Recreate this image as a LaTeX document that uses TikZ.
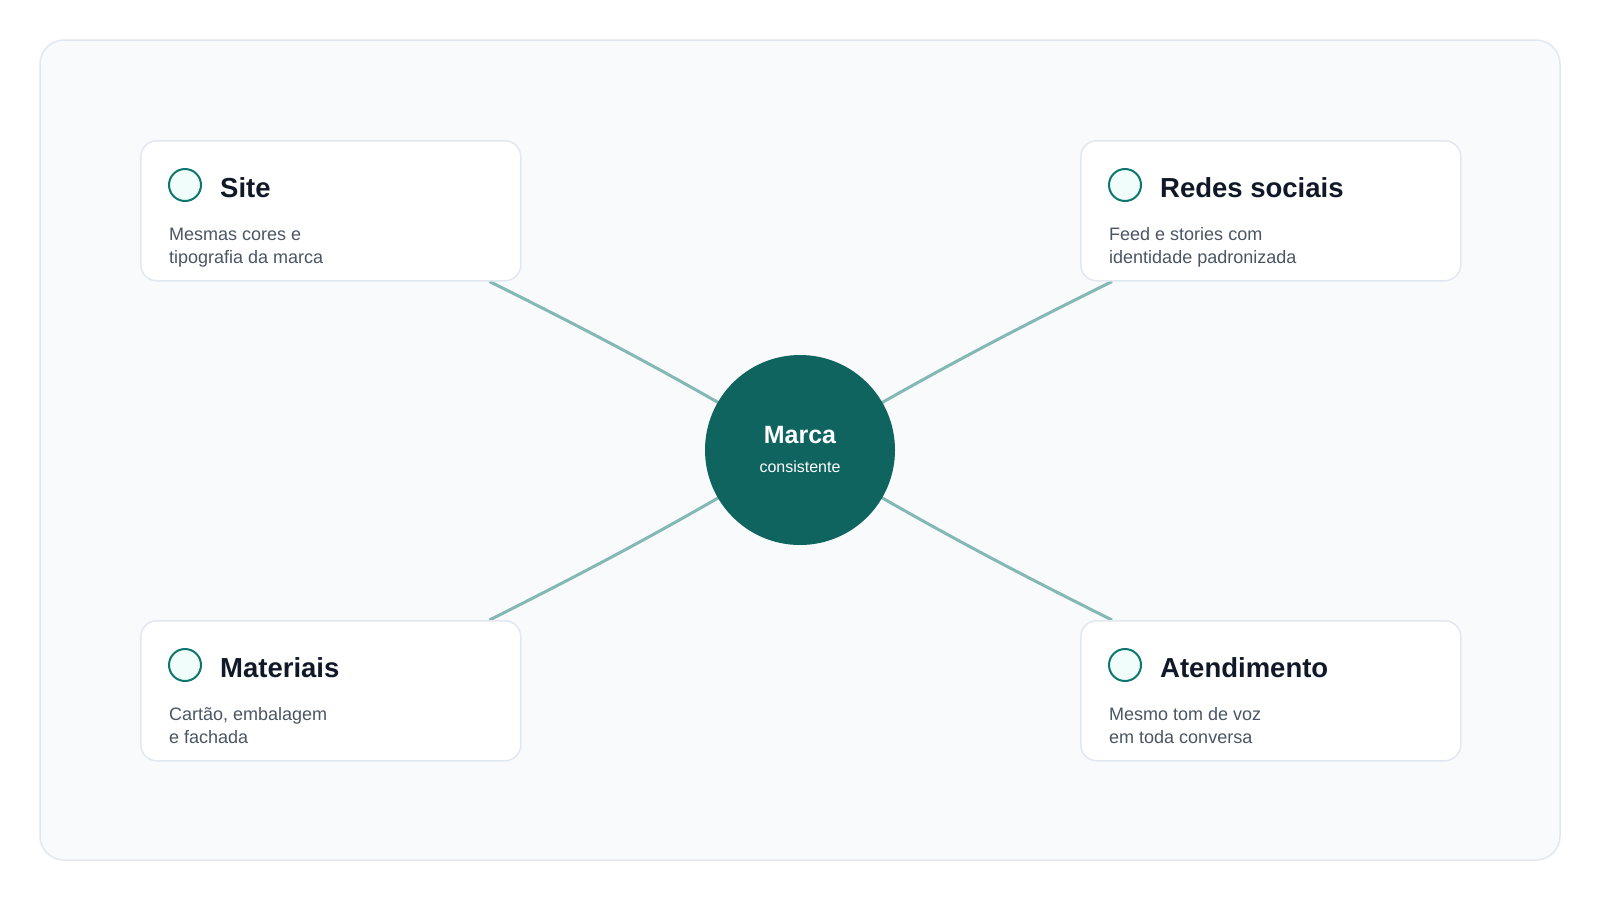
\documentclass[tikz,border=0pt]{standalone}
\usepackage{fontspec}
\setmainfont{Liberation Sans}
\usetikzlibrary{positioning,calc}

\definecolor{panelfill}{HTML}{F8FAFC}
\definecolor{panelline}{HTML}{E2E8F0}
\definecolor{hubfill}{HTML}{0F6460}
\definecolor{tealmid}{HTML}{0F766E}
\definecolor{teallight}{HTML}{F0FDFA}
\definecolor{titleink}{HTML}{111827}
\definecolor{textink}{HTML}{4B5563}

\pgfdeclarelayer{panel}
\pgfdeclarelayer{links}
\pgfsetlayers{panel,links,main}

\begin{document}
\begin{tikzpicture}[x=1pt,y=-1pt,bend angle=2]
    \tikzset{
      card/.style={
        draw=panelline,
        line width=1.5pt,
        fill=white,
        rounded corners=16pt,
        minimum width=380pt,
        minimum height=140pt,
        inner sep=0pt,
        anchor=north west
      },
      icon/.style={
        circle,
        draw=tealmid,
        line width=2pt,
        fill=teallight,
        minimum size=32pt,
        inner sep=0pt
      },
      cardtitle/.style={
        anchor=base west,
        inner sep=0pt,
        text=titleink,
        font=\fontsize{27.5}{32}\selectfont\bfseries
      },
      carddesc/.style={
        anchor=base west,
        inner sep=0pt,
        text=textink,
        align=left,
        font=\fontsize{18}{23.5}\selectfont
      },
      hub/.style={
        circle,
        fill=hubfill,
        minimum size=190pt,
        inner sep=0pt
      },
      link/.style={
        draw=tealmid!50!panelfill,
        line width=3pt
      }
    }

    \useasboundingbox (0,0) rectangle (1600,900);

    % Background panel
    \begin{pgfonlayer}{panel}
      \fill[white] (0,0) rectangle (1600,900);
      \draw[panelline, fill=panelfill, line width=1.5pt, rounded corners=24pt]
        (40,40) rectangle (1560,860);
    \end{pgfonlayer}

    % Hub
    \node [hub] (marca) at (800,450) {};
    \node [anchor=base, inner sep=0pt, text=white,
           font=\fontsize{25}{30}\selectfont\bfseries]
          (marcaTitle) at ($(marca.center)+(0,-7)$) {Marca};
    \node [anchor=base, inner sep=0pt, text=white,
           font=\fontsize{16}{20}\selectfont]
          (marcaSub) at ($(marca.center)+(0,22)$) {consistente};

    % Cards
    \node [card] (site)        at (140,140)  {};
    \node [card] (redes)       at (1080,140) {};
    \node [card] (materiais)   at (140,620)  {};
    \node [card] (atendimento) at (1080,620) {};

    % base of a two-line node sits on its last line
    \foreach \c/\t/\d in {site/Site/{Mesmas cores e\\tipografia da marca},
                          redes/Redes sociais/{Feed e stories com\\identidade padronizada},
                          materiais/Materiais/{Cartão, embalagem\\e fachada},
                          atendimento/Atendimento/{Mesmo tom de voz\\em toda conversa}}{
      \node [icon]      (\c Icon)  at ($(\c.north west)+(45,45)$)  {};
      \node [cardtitle] (\c Title) at ($(\c.north west)+(80,57)$)  {\t};
      \node [carddesc]  (\c Desc)  at ($(\c.north west)+(29,123.5)$) {\d};
    }

    % Links
    \coordinate (siteEnd)        at ($(site.south east)+(-32,0)$);
    \coordinate (redesEnd)       at ($(redes.south west)+(32,0)$);
    \coordinate (materiaisEnd)   at ($(materiais.north east)+(-32,0)$);
    \coordinate (atendimentoEnd) at ($(atendimento.north west)+(32,0)$);

    \begin{pgfonlayer}{links}
      \path [link]
        (siteEnd)        edge [bend left]  (marca.center)
        (redesEnd)       edge [bend right] (marca.center)
        (materiaisEnd)   edge [bend right] (marca.center)
        (atendimentoEnd) edge [bend left]  (marca.center);
    \end{pgfonlayer}
\end{tikzpicture}
\end{document}
